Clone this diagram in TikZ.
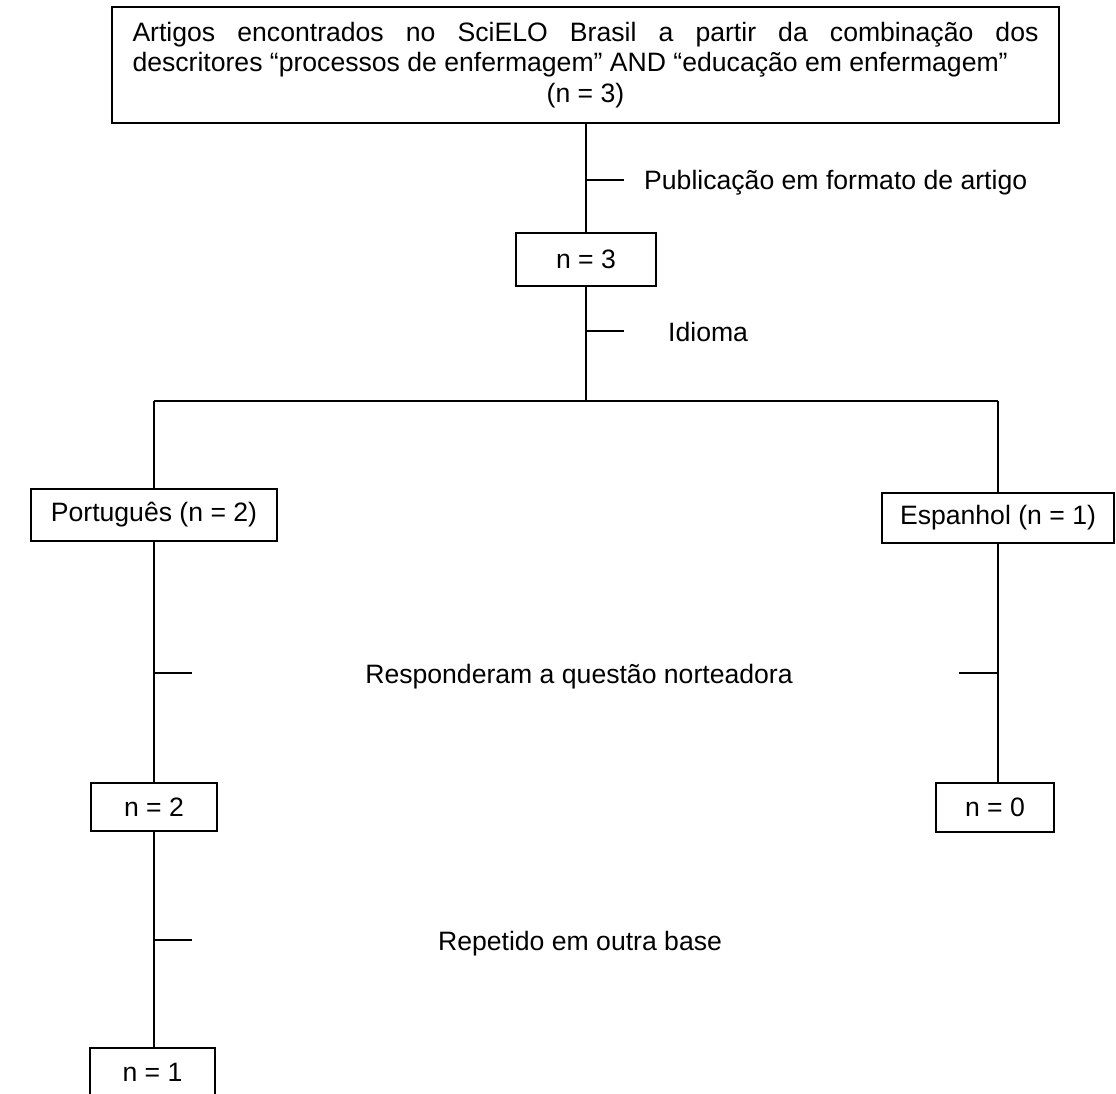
\documentclass[tikz,border=0pt]{standalone}
\usepackage{fontspec}
\setmainfont{Liberation Sans}
\begin{document}
\begin{tikzpicture}[x=1pt,y=-1pt,
  every node/.style={font=\fontsize{26.6}{30.5}\selectfont},
  box/.style={draw,line width=1.6pt,inner sep=0pt},
  ln/.style={line width=1.6pt}]
\useasboundingbox (0,0) rectangle (1116,1094);
\clip (0,0) rectangle (1116,1094);
% top box
\node[box,minimum width=947pt,minimum height=116pt] (top) at (585.5,65)
  {\parbox{906pt}{\makebox[906pt][s]{Artigos encontrados no SciELO Brasil a partir da combinação dos}\\descritores “processos de enfermagem” AND “educação em enfermagem”\\\hspace*{\fill}(n = 3)\hspace*{\fill}}};
\node[box,minimum width=140pt,minimum height=53pt] (n3) at (586,259.5) {n = 3};
\draw[ln] (n3.north) -- (n3.north |- top.south);
\coordinate (t1) at (586,180);
\draw[ln] (t1) -- ++(38,0);
\node[anchor=base west,inner sep=0pt] (l1) at (644,190) {Publicação em formato de artigo};
% branch
\coordinate (br) at (586,401);
\coordinate (bl) at (154,401);
\coordinate (brr) at (998,401);
\draw[ln] (n3.south) -- (br);
\coordinate (t2) at (586,331);
\draw[ln] (t2) -- ++(38,0);
\node[anchor=base west,inner sep=0pt] (l2) at (668,341) {Idioma};
\draw[ln] (bl) -- (brr);
\node[box,minimum width=246pt,minimum height=52pt] (pt) at (154,515) {Português (n = 2)};
\node[box,minimum width=232pt,minimum height=50pt] (es) at (998,518) {Espanhol (n = 1)};
\draw[ln] (bl) -- (pt.north);
\draw[ln] (brr) -- (es.north);
\node[box,minimum width=126pt,minimum height=48pt] (n2) at (154,807) {n = 2};
\node[box,minimum width=118pt,minimum height=49pt] (n0) at (995,807.5) {n = 0};
\draw[ln] (pt.south) -- (n2.north);
\draw[ln] (es.south) -- (es.south |- n0.north);
\coordinate (t3) at (154,673);
\coordinate (t4) at (998,673);
\draw[ln] (t3) -- ++(38,0);
\draw[ln] (t4) -- ++(-39,0);
\node[anchor=base,inner sep=0pt] (l3) at (579,683) {Responderam a questão norteadora};
\node[box,minimum width=125pt,minimum height=48pt] (n1) at (152.5,1072) {n = 1};
\draw[ln] (n2.south) -- (n2.south |- n1.north);
\coordinate (t5) at (154,940);
\draw[ln] (t5) -- ++(38,0);
\node[anchor=base,inner sep=0pt] (l4) at (580,950) {Repetido em outra base};
\end{tikzpicture}
\end{document}
